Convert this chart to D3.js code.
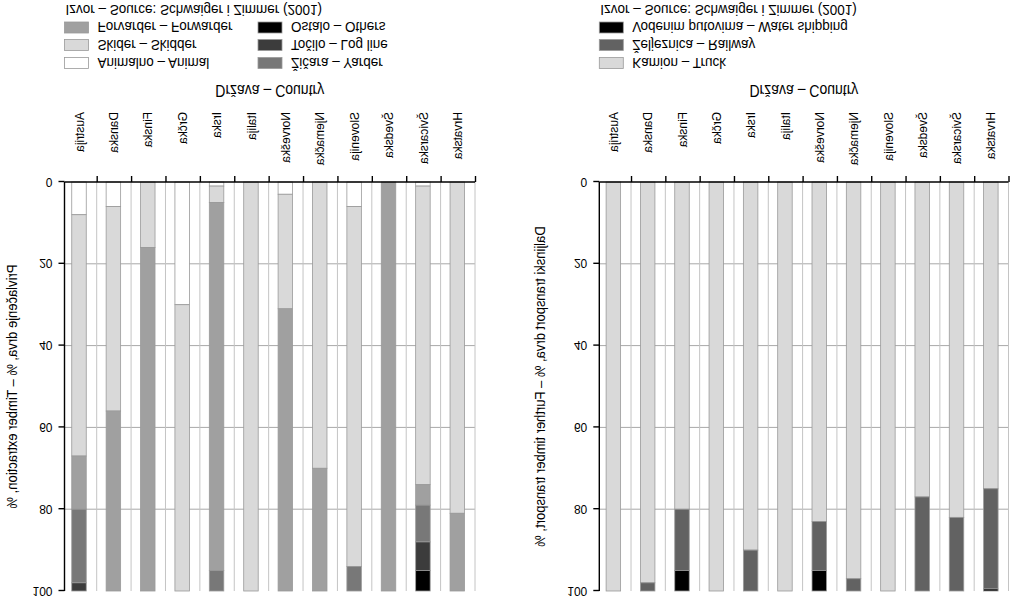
<!DOCTYPE html>
<html><head><meta charset="utf-8">
<script src="https://cdn.jsdelivr.net/npm/d3@7"></script>
<style>
html,body{margin:0;padding:0;background:#fff;}
text{font-family:"Liberation Sans",Arial,Helvetica,sans-serif;fill:#000;}
</style></head>
<body>
<svg id="chart" width="1010" height="596"></svg>
<script>
// ---- data ----
const countries = ["Austrija","Danska","Finska","Grčka","Irska","Italija","Norveška","Njemačka","Slovenija","Švedska","Švicarska","Hrvatska"];
const yTicks = [0,20,40,60,80,100];

// Timber extraction, %
const animal    = [8, 6, 0, 30, 1, 0, 3, 0, 6, 0, 1, 0];
const skidder   = [59,50,16,70, 4,100,28,70,88,0,73,81];
const forwarder = [13,44,84, 0,90, 0,69,30, 0,100,5,19];
const yarder    = [18, 0, 0, 0, 5, 0, 0, 0, 6, 0, 9, 0];
const logLine   = [2, 0, 0, 0, 0, 0, 0, 0, 0, 0, 7, 0];
const others    = [0, 0, 0, 0, 0, 0, 0, 0, 0, 0, 5, 0];
const extractionNames = ["Animalno – Animal","Skider – Skidder","Forvarder – Forwarder","Žičara – Yarder","Točilo – Log line","Ostalo – Others"];

// Further timber transport, %
const truck   = [100,98,80,100,90,100,83,97,100,77,82,75];
const railway = [0, 2,15, 0,10, 0,12, 3, 0,23,18,24.5];
const water   = [0, 0, 5, 0, 0, 0, 5, 0, 0, 0, 0, 0.5];
const transportNames = ["Kamion – Truck","Željeznica – Railway","Vodenim putovima – Water shipping"];

const sourceText = "Izvor – Source: Schwaiger i Zimmer (2001)";
const xTitle = "Država – Country";

// ---- drawing ----
const svg = d3.select("#chart");
svg.append("rect").attr("width",1010).attr("height",596).attr("fill","#fff");
// the whole picture is mirrored vertically
const root = svg.append("g").attr("transform","translate(0,596) scale(1,-1)");

function tallText(g, x, y, size, str){
  return g.append("text").attr("transform",`translate(${x},${y}) scale(1,1.12)`)
    .attr("dominant-baseline","central").attr("font-size",size).text(str);
}

function panel(cfg){
  const g = root.append("g");
  const n = countries.length;
  const x = d3.scaleBand().domain(countries).range([cfg.x0,cfg.x1]).paddingInner(0).paddingOuter(0);
  const xi = d3.scaleLinear().domain([0,n]).range([cfg.x0,cfg.x1]);
  const y = d3.scaleLinear().domain([0,100]).range([414,5]);
  const bw = 14.5;

  // horizontal grid
  g.append("g").selectAll("line").data([20,40,60,80]).join("line")
    .attr("x1",cfg.axisX).attr("x2",cfg.x1).attr("y1",d=>y(d)).attr("y2",d=>y(d))
    .attr("stroke","#a8a8a8").attr("stroke-width",1);
  // vertical grid at band boundaries
  g.append("g").selectAll("line").data(d3.range(1,n+1)).join("line")
    .attr("x1",d=>xi(d)).attr("x2",d=>xi(d)).attr("y1",y(0)).attr("y2",y(100))
    .attr("stroke","#c4c4c4").attr("stroke-width",1);

  // stacked bars
  const rows = countries.map((c,i)=>{const o={country:c}; cfg.series.forEach((s,k)=>o[k]=s[i]); return o;});
  const stack = d3.stack().keys(cfg.series.map((s,k)=>k))(rows);
  g.append("g").selectAll("g").data(stack).join("g")
    .attr("fill",(d,k)=>cfg.colors[k])
    .selectAll("rect").data(d=>d.filter(p=>p[1]-p[0]>0)).join("rect")
    .attr("x",d=>x(d.data.country)+x.bandwidth()/2-bw/2-0.5)
    .attr("width",bw)
    .attr("y",d=>y(d[1]))
    .attr("height",d=>y(d[0])-y(d[1]))
    .attr("stroke","#9a9a9a").attr("stroke-width",0.8);

  // y axis
  const ya = g.append("g").attr("transform",`translate(${cfg.axisX},0)`)
    .call(d3.axisLeft(y).tickValues(yTicks).tickSize(6).tickSizeOuter(0).tickPadding(6));
  ya.selectAll("path,line").attr("stroke","#000").attr("stroke-width",1.4);
  ya.selectAll("text").attr("font-size",12).style("font-family","Liberation Sans, Arial, sans-serif");
  ya.select(".domain").attr("d",`M0,${y(0)}V${y(100)}`);

  // x axis (ticks at band boundaries)
  const xa = g.append("g").attr("transform",`translate(0,${y(0)})`)
    .call(d3.axisBottom(xi).tickValues(d3.range(1,n+1)).tickFormat("").tickSize(6).tickSizeOuter(0));
  xa.selectAll("path,line").attr("stroke","#000").attr("stroke-width",1.4);
  xa.select(".domain").attr("d",`M${cfg.axisX},0H${cfg.x1}`);

  // country labels
  g.append("g").selectAll("text").data(countries).join("text")
    .attr("transform",d=>`translate(${x(d)+x.bandwidth()/2},484) rotate(-90) scale(1,1.08)`)
    .attr("text-anchor","start").attr("dominant-baseline","central")
    .attr("font-size",12).text(d=>d);

  // x title
  tallText(g,(cfg.axisX+cfg.x1)/2,506,14,xTitle).attr("text-anchor","middle");

  // y title
  g.append("text").attr("transform",`translate(${cfg.titleX},${(y(0)+y(100))/2}) rotate(-90) scale(1,1.08)`)
    .attr("text-anchor","middle").attr("dominant-baseline","central")
    .attr("font-size",13).text(cfg.yTitle);

  // legend
  const rowsY = [533,551,568.5];
  cfg.names.forEach((nm,k)=>{
    const col = Math.floor(k/3), r = k%3;
    const sx = col===0 ? cfg.axisX : cfg.legendCol2;
    g.append("rect").attr("x",sx).attr("y",rowsY[r]-5.5).attr("width",24).attr("height",11)
      .attr("fill",cfg.colors[k]).attr("stroke","#9a9a9a").attr("stroke-width",0.8);
    tallText(g,sx+33,rowsY[r],13.5,nm);
  });
  tallText(g,cfg.axisX+1,586,13.5,sourceText);
}

panel({
  x0:62.3, x1:475, axisX:64.5, titleX:12, legendCol2:258,
  series:[animal,skidder,forwarder,yarder,logLine,others],
  colors:["#ffffff","#d9d9d9","#a0a0a0","#787878","#3c3c3c","#000000"],
  names:extractionNames,
  yTitle:"Privlačenje drva, % – Timber extraction, %"
});
panel({
  x0:596.7, x1:1008.5, axisX:599.3, titleX:540, legendCol2:9999,
  series:[truck,railway,water],
  colors:["#d9d9d9","#626262","#000000"],
  names:transportNames,
  yTitle:"Daljinski transport drva, % – Further timber transport, %"
});
</script>
</body></html>
